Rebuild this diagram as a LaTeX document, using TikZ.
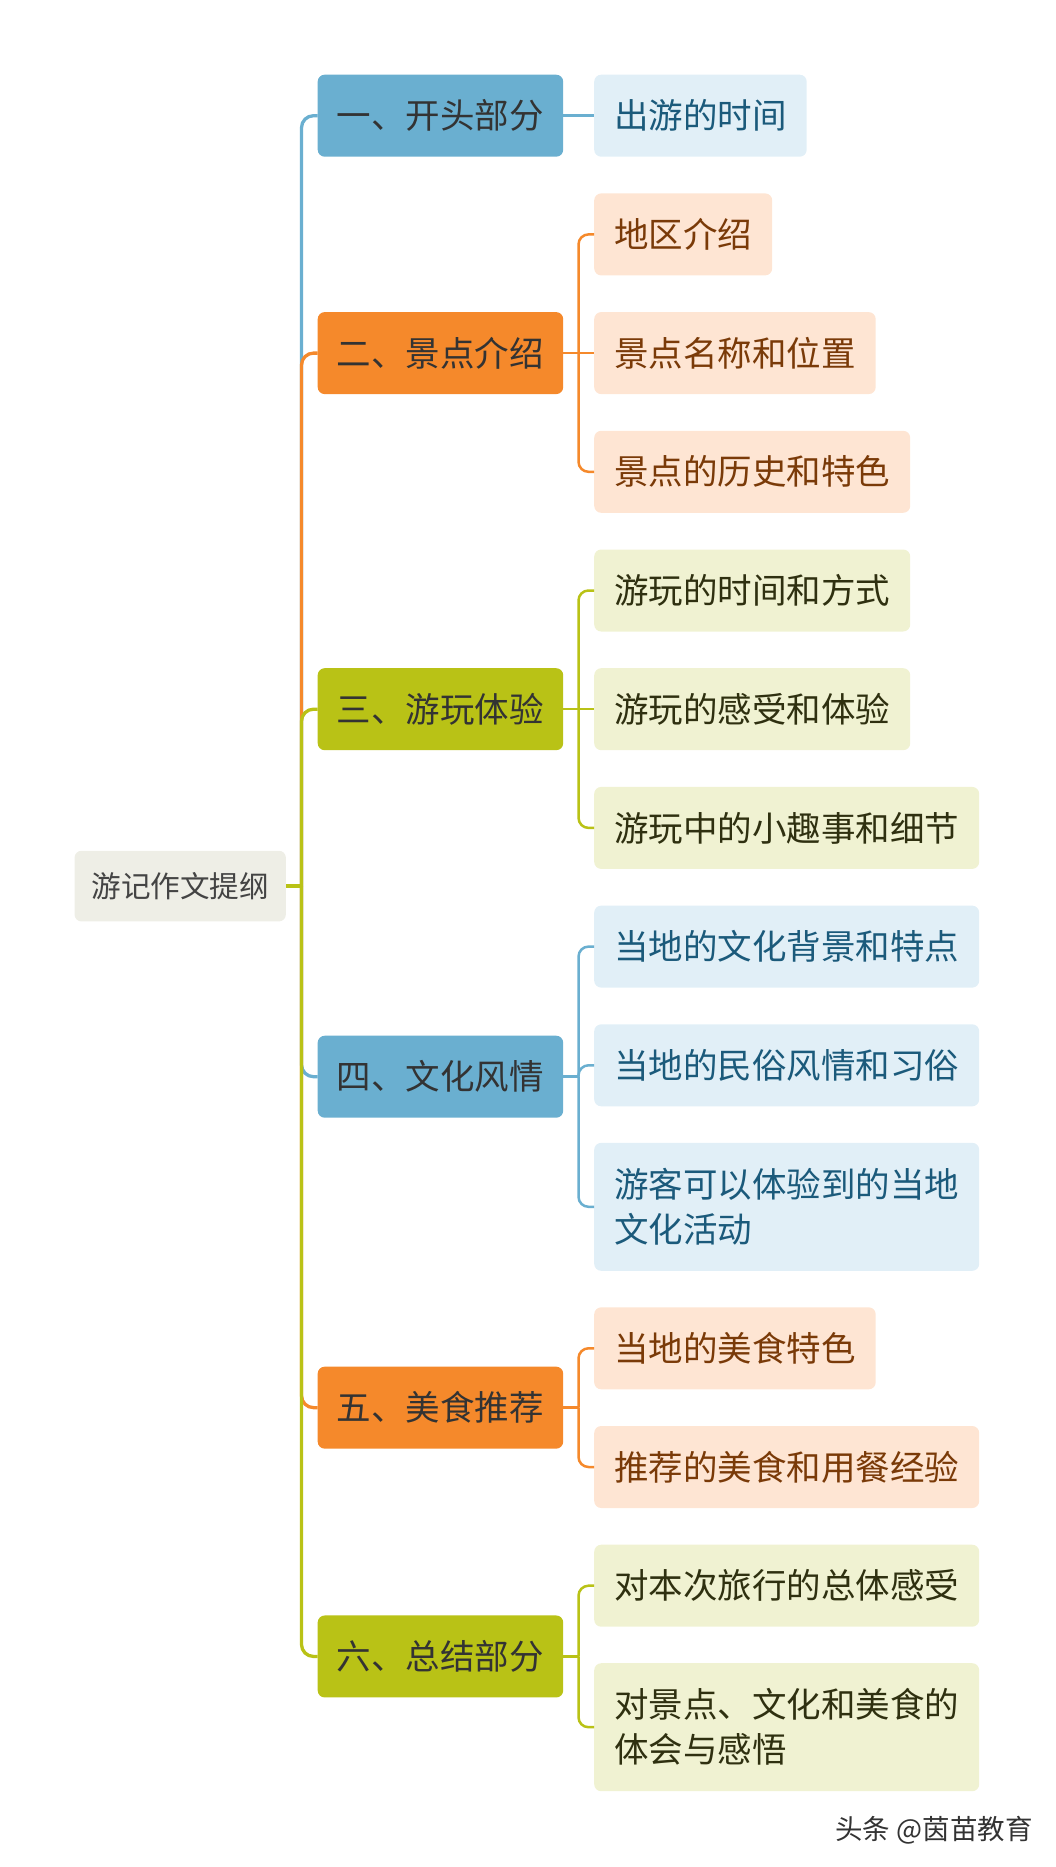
\documentclass[tikz,border=0pt]{standalone}
\usepackage{fontspec}
\setmainfont{Noto Sans CJK SC}
\usetikzlibrary{calc}
\definecolor{cblue}{HTML}{6AAFD0}
\definecolor{corange}{HTML}{F5892B}
\definecolor{colive}{HTML}{B9C216}
\definecolor{lblue}{HTML}{E1EFF7}
\definecolor{lorange}{HTML}{FEE5D3}
\definecolor{lolive}{HTML}{F0F2D2}
\definecolor{tblue}{HTML}{1B5A7B}
\definecolor{torange}{HTML}{7A3A08}
\definecolor{tolive}{HTML}{2F3010}
\definecolor{tdark}{HTML}{333333}
\definecolor{rootfill}{HTML}{EEEEE6}
\definecolor{roottext}{HTML}{444444}
\begin{document}
\begin{tikzpicture}[x=1pt,y=-1pt,
  box/.style={rectangle, rounded corners=7pt, anchor=west, inner ysep=0pt, minimum height=82pt},
  lone/.style={box, inner xsep=19.25pt, font=\fontsize{34.5pt}{45pt}\selectfont, text=tdark},
  ltwo/.style={box, inner xsep=20pt, font=\fontsize{34.5pt}{45pt}\selectfont, align=left},
  bluekid/.style={ltwo, fill=lblue, text=tblue},
  orangekid/.style={ltwo, fill=lorange, text=torange},
  olivekid/.style={ltwo, fill=lolive, text=tolive},
  tall/.style={minimum height=128pt},
  rootbox/.style={box, inner xsep=16.9pt, minimum height=70.7pt, fill=rootfill, text=roottext, font=\fontsize{29.6pt}{36pt}\selectfont},
  trunk/.style={line width=3.3pt, rounded corners=12pt},
  twig/.style={line width=2.5pt, rounded corners=10pt},
]
\useasboundingbox (0,0) rectangle (1055,1867);

% root
\node[rootbox] (root) at (74.3,886.1) {游记作文提纲};

% level 1
\node[lone, fill=cblue]   (c1) at (317.5,115.7)  {一、开头部分};
\node[lone, fill=corange] (c2) at (317.5,353.1)  {二、景点介绍};
\node[lone, fill=colive]  (c3) at (317.5,709.2)  {三、游玩体验};
\node[lone, fill=cblue]   (c4) at (317.5,1076.7) {四、文化风情};
\node[lone, fill=corange] (c5) at (317.5,1407.65) {五、美食推荐};
\node[lone, fill=colive]  (c6) at (317.5,1656.45) {六、总结部分};

% level 2
\node[bluekid] (d1a) at (594,115.7) {出游的时间};
\node[orangekid] (d2a) at (594,234.4) {地区介绍};
\node[orangekid] (d2b) at (594,353.1) {景点名称和位置};
\node[orangekid] (d2c) at (594,471.8) {景点的历史和特色};
\node[olivekid] (d3a) at (594,590.5) {游玩的时间和方式};
\node[olivekid] (d3b) at (594,709.2) {游玩的感受和体验};
\node[olivekid] (d3c) at (594,827.9) {游玩中的小趣事和细节};
\node[bluekid] (d4a) at (594,946.6) {当地的文化背景和特点};
\node[bluekid] (d4b) at (594,1065.3) {当地的民俗风情和习俗};
\node[bluekid, tall] (d4c) at (594,1206.8) {游客可以体验到的当地\\文化活动};
\node[orangekid] (d5a) at (594,1348.3) {当地的美食特色};
\node[orangekid] (d5b) at (594,1467.0) {推荐的美食和用餐经验};
\node[olivekid] (d6a) at (594,1585.7) {对本次旅行的总体感受};
\node[olivekid, tall] (d6b) at (594,1727.2) {对景点、文化和美食的\\体会与感悟};

% trunk connectors
\coordinate (rj) at (301.5,886.1);
\draw[trunk, cblue]   (rj) |- (c1.west);
\draw[trunk, corange] (rj) |- (c2.west);
\draw[trunk, colive]  (rj) |- (c3.west);
\draw[trunk, cblue]   (rj) |- (c4.west);
\draw[trunk, corange] (rj) |- (c5.west);
\draw[trunk, colive]  (rj) |- (c6.west);
\draw[line width=3.3pt, colive] (root.east) -- (rj);

% branch 1
\draw[twig, cblue] (c1.east) -- (d1a.west);
% branch 2
\coordinate (j2) at (578.5,353.1);
\draw[twig, corange] (c2.east) -- (j2);
\draw[twig, corange] (j2) |- (d2a.west);
\draw[twig, corange] (j2) -- (d2b.west);
\draw[twig, corange] (j2) |- (d2c.west);
% branch 3
\coordinate (j3) at (578.5,709.2);
\draw[twig, colive] (c3.east) -- (j3);
\draw[twig, colive] (j3) |- (d3a.west);
\draw[twig, colive] (j3) -- (d3b.west);
\draw[twig, colive] (j3) |- (d3c.west);
% branch 4
\coordinate (j4) at (578.5,1076.7);
\draw[twig, cblue] (c4.east) -- (j4);
\draw[twig, cblue] (j4) |- (d4a.west);
\draw[twig, cblue] (j4) |- (d4b.west);
\draw[twig, cblue] (j4) |- (d4c.west);
% branch 5
\coordinate (j5) at (578.5,1407.65);
\draw[twig, corange] (c5.east) -- (j5);
\draw[twig, corange] (j5) |- (d5a.west);
\draw[twig, corange] (j5) |- (d5b.west);
% branch 6
\coordinate (j6) at (578.5,1656.45);
\draw[twig, colive] (c6.east) -- (j6);
\draw[twig, colive] (j6) |- (d6a.west);
\draw[twig, colive] (j6) |- (d6b.west);

% watermark
\node[text=tdark, font=\fontsize{27.5pt}{30pt}\selectfont, inner sep=0pt] (wm) at (934,1830) {头条 @茵苗教育};
\end{tikzpicture}
\end{document}
